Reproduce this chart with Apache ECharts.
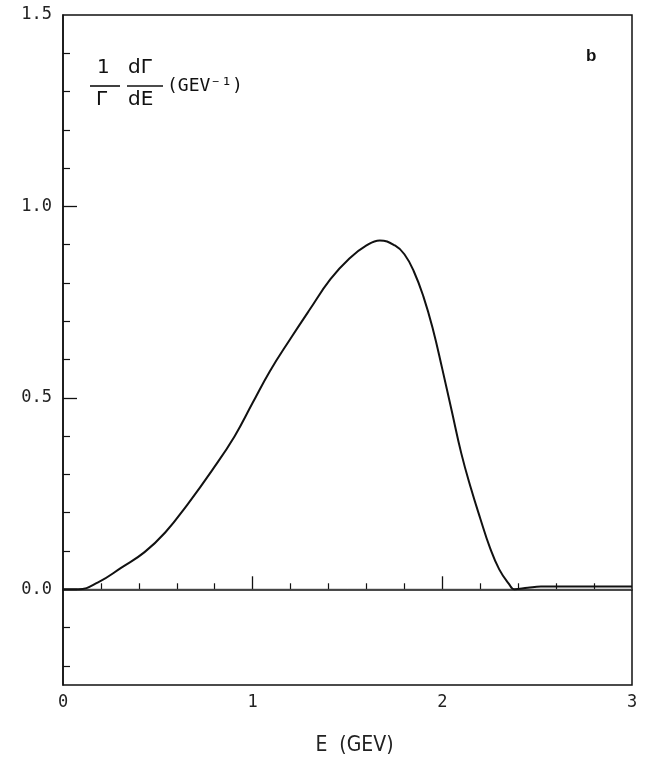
<!DOCTYPE html>
<html>
<head>
<meta charset="utf-8">
<script src="https://cdn.jsdelivr.net/npm/echarts@6/dist/echarts.min.js"></script>
<style>
html,body{margin:0;padding:0;background:#fff;}
#chart{width:645px;height:761px;}
</style>
</head>
<body>
<div id="chart"></div>
<script>
// ---- data ----
const energy = [0, 0.08, 0.185, 0.31, 0.43, 0.54, 0.66, 0.785, 0.905, 1.0, 1.09, 1.2, 1.3, 1.41, 1.51, 1.6, 1.67, 1.75, 1.8, 1.85, 1.9, 1.95, 2.0, 2.05, 2.1, 2.15, 2.2, 2.25, 2.3, 2.35, 2.38, 2.45, 2.52, 3.0];
const rate   = [0, 0, 0.018, 0.057, 0.097, 0.149, 0.224, 0.31, 0.40, 0.487, 0.569, 0.655, 0.73, 0.81, 0.864, 0.898, 0.911, 0.898, 0.875, 0.83, 0.765, 0.68, 0.575, 0.465, 0.355, 0.265, 0.185, 0.11, 0.052, 0.015, 0.0, 0.004, 0.007, 0.007];
const baseE  = [0, 3];
const baseV  = [0, 0];

// ---- tick labels / tick positions ----
const xLabelValues = [0, 1, 2, 3];
const xMinorTicks  = [0.2, 0.4, 0.6, 0.8, 1.2, 1.4, 1.6, 1.8, 2.2, 2.4, 2.6, 2.8];
const xMajorTicks  = [1, 2];
const yLabelValues = [0, 0.5, 1.0, 1.5];
const yMinorTicks  = [-0.2, -0.1, 0.1, 0.2, 0.3, 0.4, 0.6, 0.7, 0.8, 0.9, 1.1, 1.2, 1.3, 1.4];
const yMajorTicks  = [0, 0.5, 1.0];
const yMin = -0.25, yMax = 1.5, xMin = 0, xMax = 3;

const curve = energy.map((e, i) => [e, rate[i]]);
const base = baseE.map((e, i) => [e, baseV[i]]);

const tickFont = { fontFamily: 'DejaVu Sans Mono', fontSize: 17, color: '#222' };
const ink = '#111';

const chart = echarts.init(document.getElementById('chart'), null, { renderer: 'canvas' });
chart.setOption({
  animation: false,
  backgroundColor: '#fff',
  grid: { left: 63, right: 13, top: 15, bottom: 76, show: true, borderColor: ink, borderWidth: 1.5, backgroundColor: 'transparent' },
  xAxis: [
    {
      type: 'value', min: xMin, max: xMax, position: 'bottom',
      axisLine: { show: true, lineStyle: { color: ink, width: 1.5 } },
      axisTick: { show: true, inside: true, length: 6, customValues: xMinorTicks, lineStyle: { color: ink, width: 1.2 } },
      axisLabel: Object.assign({ customValues: xLabelValues, margin: 9, formatter: v => String(Math.round(v)) }, tickFont),
      splitLine: { show: false },
      name: 'E  (GEV)', nameLocation: 'middle', nameGap: 50,
      nameTextStyle: { fontFamily: 'DejaVu Sans Condensed, DejaVu Sans Mono, sans-serif', fontSize: 21, color: '#222', padding: [0, 0, 0, 14] }
    },
    {
      type: 'value', min: xMin, max: xMax, position: 'bottom',
      axisLine: { show: false },
      axisTick: { show: true, inside: true, length: 13, customValues: xMajorTicks, lineStyle: { color: ink, width: 1.3 } },
      axisLabel: { show: false },
      splitLine: { show: false }
    }
  ],
  yAxis: [
    {
      type: 'value', min: yMin, max: yMax, position: 'left',
      axisLine: { show: true, lineStyle: { color: ink, width: 1.5 } },
      axisTick: { show: true, inside: true, length: 7, customValues: yMinorTicks, lineStyle: { color: ink, width: 1.2 } },
      axisLabel: Object.assign({ customValues: yLabelValues, margin: 11, formatter: v => v.toFixed(1) }, tickFont),
      splitLine: { show: false }
    },
    {
      type: 'value', min: yMin, max: yMax, position: 'left',
      axisLine: { show: false },
      axisTick: { show: true, inside: true, length: 14, customValues: yMajorTicks, lineStyle: { color: ink, width: 1.3 } },
      axisLabel: { show: false },
      splitLine: { show: false }
    }
  ],
  series: [
    {
      type: 'line', data: base, xAxisIndex: 0, yAxisIndex: 0,
      symbol: 'none', lineStyle: { color: '#444', width: 1 }, silent: true
    },
    {
      type: 'line', data: curve, xAxisIndex: 0, yAxisIndex: 0,
      symbol: 'none', smooth: 0.45,
      lineStyle: { color: ink, width: 2 }
    }
  ],
  graphic: [
    { type: 'text', left: 97, top: 58, style: { text: '1', font: '20px "DejaVu Sans"', fill: ink } },
    { type: 'line', shape: { x1: 90, y1: 86, x2: 120, y2: 86 }, style: { stroke: ink, lineWidth: 1.6 } },
    { type: 'text', left: 96, top: 90, style: { text: 'Γ', font: '20px "DejaVu Sans"', fill: ink } },
    { type: 'text', left: 128, top: 58, style: { text: 'dΓ', font: '20px "DejaVu Sans"', fill: ink } },
    { type: 'line', shape: { x1: 127, y1: 86, x2: 163, y2: 86 }, style: { stroke: ink, lineWidth: 1.6 } },
    { type: 'text', left: 128, top: 90, style: { text: 'dE', font: '20px "DejaVu Sans"', fill: ink } },
    { type: 'text', left: 167, top: 77, style: { text: '(GEV⁻¹)', font: '18px "DejaVu Sans Mono"', fill: ink } },
    { type: 'text', left: 586, top: 48, style: { text: 'b', font: 'bold 17px "Liberation Sans"', fill: ink } }
  ]
});
</script>
</body>
</html>
